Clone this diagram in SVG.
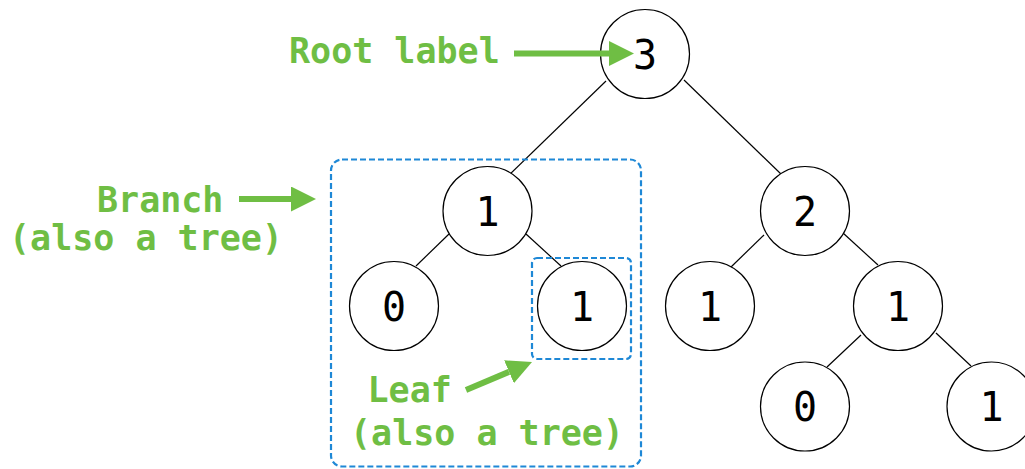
<svg xmlns="http://www.w3.org/2000/svg" width="1025" height="469" viewBox="0 0 1025 469">
  <style>
    .node circle { fill: #ffffff; stroke: #000000; stroke-width: 1.2; }
    .node text { font-family: "DejaVu Sans Mono", monospace; font-size: 40px; fill: #000000; text-anchor: middle; }
    .edge { stroke: #000000; stroke-width: 1.2; }
    .label { font-family: "DejaVu Sans Mono", monospace; font-weight: bold; font-size: 35px; fill: #6fbe44; }
    .arrow { stroke: #6fbe44; stroke-width: 6; fill: none; }
    .box { fill: none; stroke: #1e88d6; stroke-width: 2.2; stroke-dasharray: 6 3; }
  </style>
  <defs>
    <marker id="head" markerUnits="userSpaceOnUse" markerWidth="26" markerHeight="26" refX="0" refY="12.5" orient="auto" viewBox="0 0 26 26">
      <path d="M0,0 L25,12.5 L0,25 z" fill="#6fbe44"/>
    </marker>
  </defs>
  <rect width="1025" height="469" fill="#ffffff"/>

  <g id="connectors">
    <line class="edge" x1="606" y1="81" x2="508" y2="176"/>
    <line class="edge" x1="684" y1="80" x2="782" y2="175"/>
    <line class="edge" x1="449" y1="234" x2="416" y2="266"/>
    <line class="edge" x1="526" y1="234" x2="561" y2="266"/>
    <line class="edge" x1="764" y1="235" x2="731" y2="267"/>
    <line class="edge" x1="843" y1="233" x2="878" y2="265"/>
    <line class="edge" x1="861" y1="335" x2="827" y2="367"/>
    <line class="edge" x1="936" y1="333" x2="971" y2="366"/>
  </g>

  <g id="branch-box">
    <rect class="box" x="331" y="159.5" width="310" height="307" rx="11" ry="11"/>
  </g>
  <g id="leaf-box">
    <rect class="box" x="532" y="258" width="99" height="101" rx="5" ry="5"/>
  </g>

  <g id="n-root" class="node"><circle cx="645" cy="54" r="44.5"/><text x="645" y="68.5">3</text></g>
  <g id="n-l1" class="node"><circle cx="487.5" cy="211" r="44.5"/><text x="487.5" y="225.5">1</text></g>
  <g id="n-l0" class="node"><circle cx="394" cy="306" r="44.5"/><text x="394" y="320.5">0</text></g>
  <g id="n-leaf" class="node"><circle cx="582" cy="306" r="44.5"/><text x="582" y="320.5">1</text></g>
  <g id="n-r2" class="node"><circle cx="805" cy="211" r="44.5"/><text x="805" y="225.5">2</text></g>
  <g id="n-r1a" class="node"><circle cx="710" cy="306" r="44.5"/><text x="710" y="320.5">1</text></g>
  <g id="n-r1b" class="node"><circle cx="898" cy="306" r="44.5"/><text x="898" y="320.5">1</text></g>
  <g id="n-r0" class="node"><circle cx="805" cy="406.5" r="44.5"/><text x="805" y="421">0</text></g>
  <g id="n-r1c" class="node"><circle cx="991.5" cy="406.5" r="44.5"/><text x="991.5" y="421">1</text></g>

  <g id="label-root">
    <text class="label" x="289" y="63">Root label</text>
    <line class="arrow" x1="514" y1="53.5" x2="609" y2="53.5" marker-end="url(#head)"/>
  </g>
  <g id="label-branch">
    <text class="label" x="97" y="212">Branch</text>
    <text class="label" x="9" y="250">(also a tree)</text>
    <line class="arrow" x1="239" y1="199" x2="291" y2="199" marker-end="url(#head)"/>
  </g>
  <g id="label-leaf">
    <text class="label" x="367.5" y="402">Leaf</text>
    <text class="label" x="350" y="445">(also a tree)</text>
    <line class="arrow" x1="466" y1="390" x2="509" y2="371.8" marker-end="url(#head)"/>
  </g>
</svg>
